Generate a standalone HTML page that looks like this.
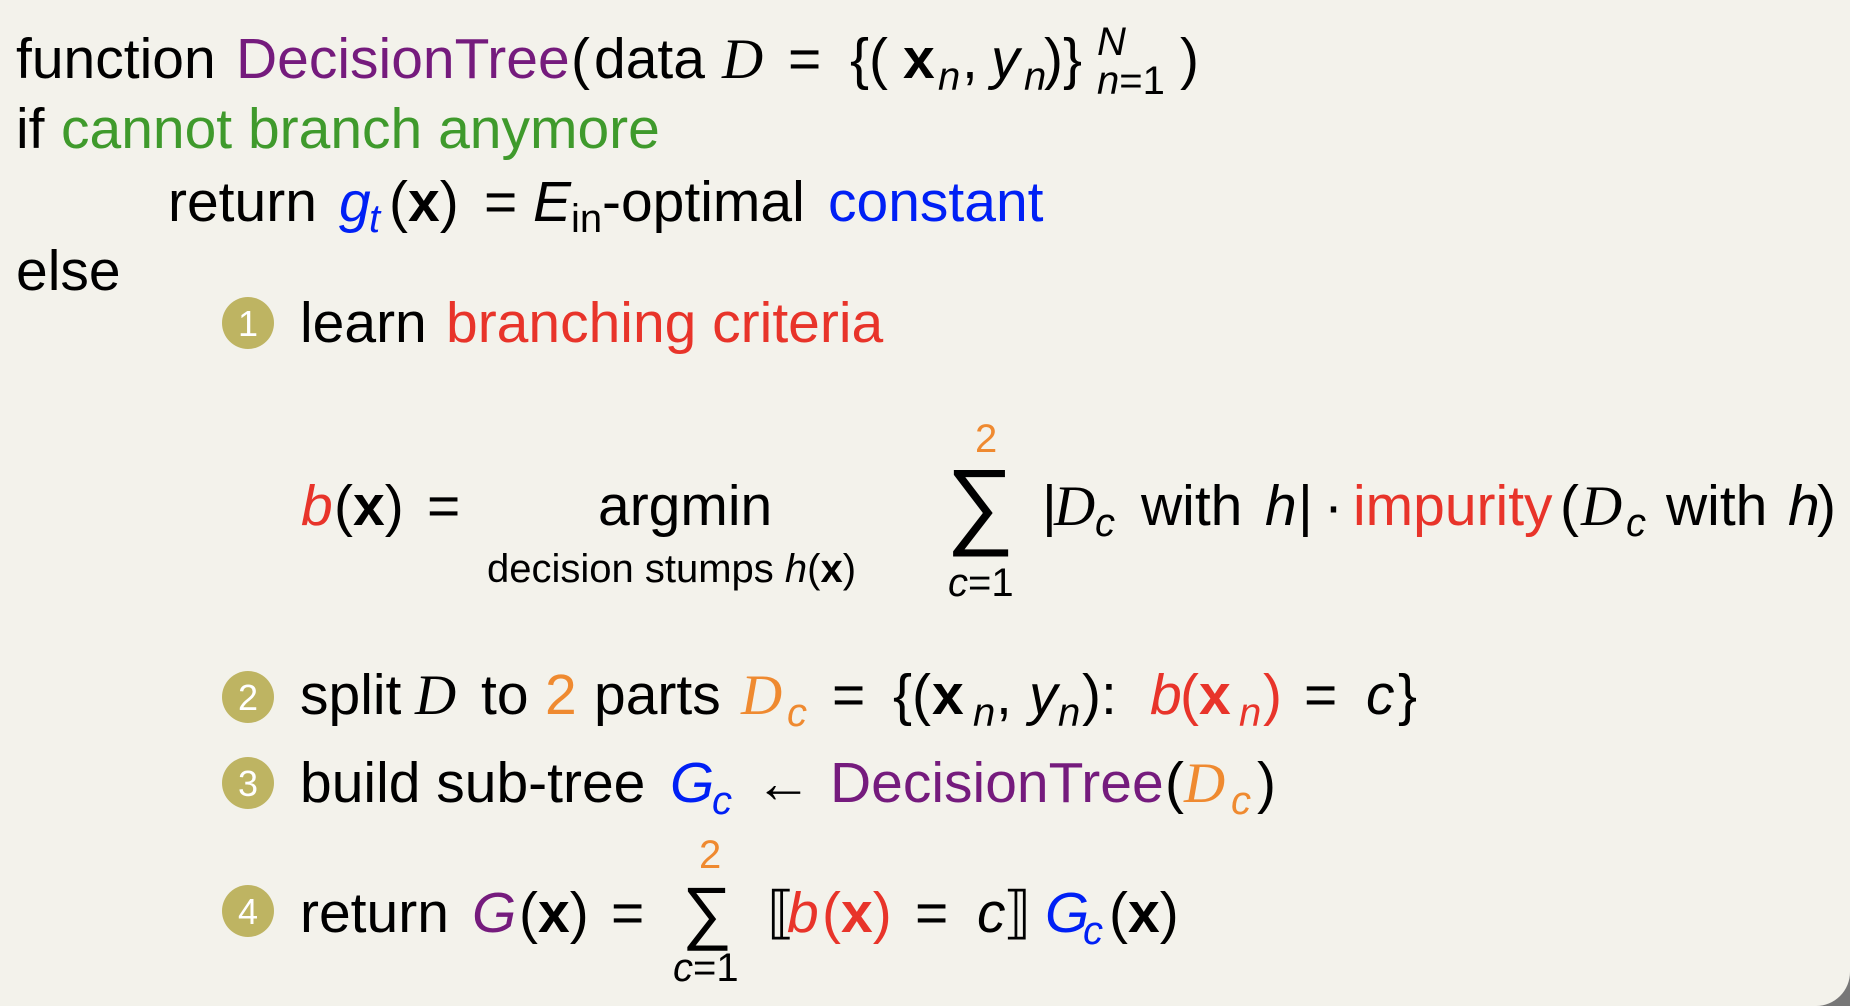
<!DOCTYPE html>
<html><head><meta charset="utf-8"><style>
html,body{margin:0;padding:0;background:#f3f2eb;}
svg{display:block}
text{font-family:"Liberation Sans",sans-serif;fill:#000}
.i{font-style:italic}.b{font-weight:bold}
.cal{font-family:"Liberation Serif",serif;font-style:italic}
.pu{fill:#751b7d}.gr{fill:#3f9a2c}.bl{fill:#0020f5}.rd{fill:#e8342a}.or{fill:#ef8a30}
.bn{fill:#fff;font-size:36px}
</style></head><body>
<svg width="1850" height="1006" viewBox="0 0 1850 1006" xmlns="http://www.w3.org/2000/svg">
<rect x="1810" y="966" width="40" height="40" fill="#777"/>
<rect x="-40" y="-40" width="1890" height="1046" rx="34" fill="#f3f2eb"/>
<g font-size="57">
<!-- line 1 -->
<text y="78"><tspan x="16">function</tspan><tspan x="236" class="pu">DecisionTree</tspan><tspan x="571">(</tspan><tspan x="594">data</tspan><tspan x="722" class="cal">D</tspan><tspan x="788">=</tspan><tspan x="850">{(</tspan><tspan x="903" class="b">x</tspan><tspan x="1044">)}</tspan><tspan x="1180">)</tspan></text>
<text y="90" font-size="40" class="i"><tspan x="938">n</tspan></text>
<text y="78"><tspan x="962">,</tspan><tspan x="991" class="i">y</tspan></text>
<text y="90" font-size="40" class="i"><tspan x="1024">n</tspan></text>
<text y="55" font-size="40" class="i" x="1097">N</text>
<text y="94" font-size="40" x="1097"><tspan class="i">n</tspan>=1</text>
<!-- line 2 -->
<text y="148"><tspan x="16">if</tspan><tspan x="61" class="gr">cannot branch anymore</tspan></text>
<!-- line 3 -->
<text y="221"><tspan x="168">return</tspan><tspan x="339" class="bl i">g</tspan><tspan x="389">(</tspan><tspan class="b">x</tspan><tspan>)</tspan><tspan x="484">=</tspan><tspan x="533" class="i">E</tspan><tspan x="602">-optimal</tspan><tspan x="828" class="bl">constant</tspan></text>
<text y="232" font-size="40"><tspan x="369" class="bl i">t</tspan><tspan x="571">in</tspan></text>
<text y="290" x="16">else</text>
<!-- step 1 -->
<text y="342"><tspan x="300">learn</tspan><tspan x="446" class="rd">branching criteria</tspan></text>
<text y="525"><tspan x="301" class="rd i">b</tspan><tspan x="334">(</tspan><tspan class="b">x</tspan><tspan>)</tspan><tspan x="427">=</tspan><tspan x="598">argmin</tspan></text>
<text y="582" font-size="40"><tspan x="487">decision stumps</tspan><tspan class="i"> h</tspan><tspan>(</tspan><tspan class="b">x</tspan><tspan>)</tspan></text>
<text y="536" x="946" font-size="96" font-family="DejaVu Sans">∑</text>
<text y="452" x="975" font-size="40" class="or">2</text>
<text y="596" x="948" font-size="40"><tspan class="i">c</tspan>=1</text>
<text y="525"><tspan x="1042">|</tspan><tspan x="1054" class="cal">D</tspan><tspan x="1141">with</tspan><tspan x="1265" class="i">h</tspan><tspan x="1298">|</tspan><tspan x="1324">·</tspan><tspan x="1353" class="rd">impurity</tspan><tspan x="1560">(</tspan><tspan x="1581" class="cal">D</tspan><tspan x="1666">with</tspan><tspan x="1788" class="i">h</tspan><tspan x="1817">)</tspan></text>
<text y="536" font-size="40" class="i"><tspan x="1095">c</tspan><tspan x="1626">c</tspan></text>
<!-- step 2 -->
<text y="714"><tspan x="300">split</tspan><tspan x="415" class="cal">D</tspan><tspan x="481">to</tspan><tspan x="545" class="or">2</tspan><tspan x="594">parts</tspan><tspan x="741" class="cal or">D</tspan><tspan x="832">=</tspan><tspan x="893">{(</tspan><tspan x="932" class="b">x</tspan><tspan x="996">,</tspan><tspan x="1029" class="i">y</tspan><tspan x="1082">):</tspan><tspan x="1150" class="rd i">b</tspan><tspan x="1180" class="rd">(</tspan><tspan class="rd b">x</tspan><tspan x="1263" class="rd">)</tspan><tspan x="1304">=</tspan><tspan x="1366" class="i">c</tspan><tspan x="1398">}</tspan></text>
<text y="726" font-size="40" class="i"><tspan x="787" class="or">c</tspan><tspan x="973">n</tspan><tspan x="1058">n</tspan><tspan x="1239" class="rd">n</tspan></text>
<!-- step 3 -->
<text y="802"><tspan x="300">build sub-tree</tspan><tspan x="670" class="bl i">G</tspan><tspan x="755">←</tspan><tspan x="830" class="pu">DecisionTree</tspan><tspan x="1165">(</tspan><tspan x="1184" class="cal or">D</tspan><tspan x="1257">)</tspan></text>
<text y="814" font-size="40" class="i"><tspan x="712" class="bl">c</tspan><tspan x="1231" class="or">c</tspan></text>
<!-- step 4 -->
<text y="932"><tspan x="300">return</tspan><tspan x="472" class="pu i">G</tspan><tspan x="519">(</tspan><tspan class="b">x</tspan><tspan>)</tspan><tspan x="611">=</tspan><tspan x="767">⟦</tspan><tspan x="787" class="rd i">b</tspan><tspan x="822" class="rd">(</tspan><tspan class="rd b">x</tspan><tspan class="rd">)</tspan><tspan x="915">=</tspan><tspan x="977" class="i">c</tspan><tspan x="1003">⟧</tspan><tspan x="1045" class="bl i">G</tspan><tspan x="1109">(</tspan><tspan class="b">x</tspan><tspan>)</tspan></text>
<text y="944" font-size="40" class="i bl" x="1083">c</text>
<text y="936" x="682" font-size="70" font-family="DejaVu Sans">∑</text>
<text y="868" x="699" font-size="40" class="or">2</text>
<text y="981" x="673" font-size="40"><tspan class="i">c</tspan>=1</text>
</g>
<g fill="#beb462">
<circle cx="248" cy="323" r="26"/><circle cx="248" cy="697" r="26"/><circle cx="248" cy="783" r="26"/><circle cx="248" cy="911" r="26"/>
</g>
<text class="bn" x="248" y="336" text-anchor="middle">1</text>
<text class="bn" x="248" y="710" text-anchor="middle">2</text>
<text class="bn" x="248" y="796" text-anchor="middle">3</text>
<text class="bn" x="248" y="924" text-anchor="middle">4</text>
</svg>
</body></html>
